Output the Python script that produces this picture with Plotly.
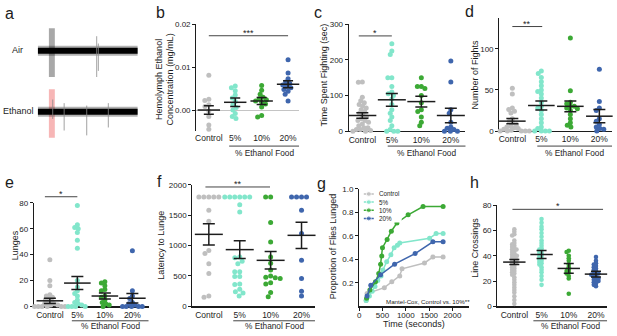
import numpy as np
import plotly.graph_objects as go

W, H = 617, 336
FONT = "Liberation Sans, Arimo, Arial, sans-serif"
INK = "#1c1c1c"
SIGC = "#444444"

GROUPS = ["Control", "5%", "10%", "20%"]
COLORS = ["#bfbfbf", "#82e6cb", "#3ca935", "#3f66ad"]
XLABEL = "% Ethanol Food"

# ---------------- panel a : recordings ----------------
a_rows = ["Air", "Ethanol"]
a_row_level = [0.0, -1.0]
a_record = [5.5, 96.4]
a_stim = [15.5, 20.9]
a_stim_extent = [-0.43, 0.37]
a_stim_colors = ["#a8a8a8", "#f7b6b6"]
air_spike_t = [59.1, 60.6]
air_spike_hi = [0.24, 0.12]
air_spike_lo = [-0.43, -0.33]
eth_spike_t = [19.0, 29.4, 50.0, 69.7]
eth_spike_hi = [-0.80, -0.86, -0.90, -0.86]
eth_spike_lo = [-1.12, -1.31, -1.39, -1.26]

# ---------------- panel b : hemolymph ethanol (mg/mL) ----------------
b_ctrl = [0.0081, 0.0025, 0.0022, 0.0012, 0.0008, -0.0002, -0.0015, -0.0035, -0.0045, -0.0052]
b_5 = [0.0056, 0.0052, 0.0045, 0.0035, 0.0028, 0.0020, 0.0012, 0.0006, 0.0, -0.0008, -0.0015, -0.0020]
b_10 = [0.0057, 0.0046, 0.0037, 0.0030, 0.0026, 0.0024, 0.0021, 0.0018, 0.0014, 0.0007, -0.0013, -0.0016]
b_20 = [0.0117, 0.0086, 0.0073, 0.0065, 0.0062, 0.0058, 0.0055, 0.0052, 0.0048, 0.0044, 0.0037, 0.0021]
b_mean = [0.0000, 0.0018, 0.0021, 0.0060]
b_sem = [0.0010, 0.0010, 0.0008, 0.0008]

# ---------------- panel c : time spent fighting (sec) ----------------
c_ctrl = [138, 137, 95, 85, 80, 75, 70, 65, 60, 55, 50, 45, 40, 35, 30, 30, 25, 20, 15, 10, 10, 5, 5, 2, 0, 0]
c_5 = [245, 225, 215, 150, 150, 125, 110, 105, 100, 90, 75, 60, 50, 40, 30, 15, 5, 0, 0, 0]
c_10 = [150, 125, 125, 120, 100, 80, 60, 55, 40, 25, 15]
c_20 = [197, 138, 60, 50, 25, 12, 8, 5, 0, 0, 0]
c_mean = [44, 88, 83, 44]
c_sem = [7.5, 18, 15, 20]

# ---------------- panel d : number of fights ----------------
d_ctrl = [52, 45, 28, 26, 24, 22, 15, 12, 10, 8, 6, 5, 4, 3, 2, 1, 0, 0, 0, 0, 0, 0]
d_5 = [73, 70, 65, 60, 55, 50, 48, 45, 40, 35, 30, 28, 25, 20, 15, 10, 5, 3, 0, 0, 0, 0]
d_10 = [113, 49, 35, 33, 30, 30, 28, 27, 25, 20, 15, 10, 7, 5]
d_20 = [75, 36, 28, 25, 15, 12, 8, 5, 3, 2, 0]
d_mean = [12, 31, 30, 18]
d_sem = [3.2, 5.4, 6.5, 8.0]

# ---------------- panel e : lunges ----------------
e_ctrl = [36, 20, 16, 9, 8, 7, 6, 5, 4, 3, 2, 2, 1, 1, 0, 0, 0, 0, 0, 0]
e_5 = [78, 63, 61, 60, 57, 51, 45, 20, 15, 12, 10, 8, 5, 3, 2, 1, 0, 0, 0, 0]
e_10 = [19, 18, 16, 13, 12, 8, 7, 5, 3, 2, 1, 0]
e_20 = [43, 12, 8, 6, 3, 2, 1, 0, 0, 0, 0, 0]
e_mean = [4.3, 18, 8, 6.3]
e_sem = [2.0, 5.0, 2.3, 3.6]

# ---------------- panel f : latency to lunge ----------------
f_ctrl = [1800, 1800, 1800, 1800, 1800, 1580, 1400, 920, 870, 700, 540, 170, 150]
f_5 = [1800, 1800, 1800, 1800, 1800, 1800, 1670, 1550, 810, 800, 740, 700, 570, 570,
       490, 490, 370, 360, 280, 240, 220, 170]
f_10 = [1800, 1800, 1380, 1060, 810, 710, 600, 500, 480, 470, 460, 390, 370, 230, 160]
f_20 = [1800, 1800, 1800, 1800, 1580, 1200, 760, 460, 250, 170]
f_mean = [1184, 933, 757, 1168]
f_sem = [176, 147, 144, 216]

# ---------------- panel g : proportion of flies lunged ----------------
g_ctrl_t = [150, 170, 540, 700, 870, 920, 1400, 1580, 1800]
g_ctrl_p = [0.05, 0.11, 0.16, 0.21, 0.26, 0.32, 0.37, 0.42, 0.42]
g_5_t = [150, 220, 280, 340, 400, 470, 510, 590, 680, 750, 820, 870, 1510, 1650, 1800]
g_5_p = [0.05, 0.09, 0.13, 0.17, 0.22, 0.26, 0.31, 0.38, 0.44, 0.50, 0.52, 0.54, 0.58, 0.62, 0.62]
g_10_t = [160, 230, 350, 420, 460, 485, 500, 600, 690, 810, 1050, 1370, 1800]
g_10_p = [0.07, 0.14, 0.21, 0.28, 0.36, 0.43, 0.50, 0.57, 0.64, 0.71, 0.78, 0.85, 0.85]
g_20_t = [170, 250, 460, 760, 1200, 1580, 1800]
g_20_p = [0.09, 0.18, 0.27, 0.36, 0.45, 0.55, 0.55]
g_note = "Mantel-Cox, Control vs. 10%**"

# ---------------- panel h : line crossings ----------------
h_ctrl = [61, 59, 57, 56, 52, 50, 49, 48, 47, 46, 45, 45, 44, 43, 42, 41, 40, 40, 39, 38,
          37, 37, 36, 35, 35, 34, 33, 32, 31, 30, 29, 28, 27, 26, 25, 23, 21, 19, 17, 15,
          13, 11, 8, 5, 2]
h_5 = [69, 66, 63, 61, 58, 55, 52, 50, 48, 46, 45, 44, 43, 42, 41, 40, 39, 38, 37, 36,
       35, 34, 33, 31, 29, 27, 24, 21, 17]
h_10 = [44, 43, 40, 38, 36, 33, 31, 29, 28, 27, 26, 24, 22, 10]
h_20 = [39, 36, 34, 33, 32, 31, 30, 29, 28, 27, 26, 26, 25, 25, 24, 23, 22, 22, 21, 20,
        20, 19, 18, 17, 16]
h_mean = [35, 41, 30, 25.5]
h_sem = [2.0, 3.2, 3.8, 2.2]


def fx(px):
    return px / W


def fy(py):
    return 1 - py / H


def swarm(vals, ppu, ppc, diam):
    vals = np.asarray(vals, float)
    order = np.argsort(-vals, kind="stable")
    placed = []
    off = np.zeros(len(vals))
    for i in order:
        y = vals[i] * ppu
        cands = [0.0]
        for x0, y0 in placed:
            dy = y - y0
            if abs(dy) < diam:
                dx = (diam ** 2 - dy ** 2) ** 0.5
                cands += [x0 + dx, x0 - dx]
        cands.sort(key=lambda c: (abs(c), c))
        choice = cands[-1]
        for c in cands:
            if all((c - x0) ** 2 + (y - y0) ** 2 >= diam ** 2 - 1e-6 for x0, y0 in placed):
                choice = c
                break
        placed.append((choice, y))
        off[i] = choice / ppc
    return off


fig = go.Figure()
ann = []
shapes = []


def axnames(i):
    return ("x" if i == 1 else f"x{i}"), ("y" if i == 1 else f"y{i}")


def set_axes(i, xpx, ypx, xr, yr, xkw=None, ykw=None):
    xn, yn = axnames(i)
    base = dict(showgrid=False, zeroline=False, layer="below traces", fixedrange=True)
    xd = dict(base, domain=[fx(xpx[0]), fx(xpx[1])], range=list(xr), anchor=yn)
    xd.update(xkw or {})
    yd = dict(base, domain=[fy(ypx[1]), fy(ypx[0])], range=list(yr), anchor=xn)
    yd.update(ykw or {})
    fig.layout["xaxis" if i == 1 else f"xaxis{i}"] = xd
    fig.layout["yaxis" if i == 1 else f"yaxis{i}"] = yd


def text(px, py, s, size, **kw):
    d = dict(x=fx(px), y=fy(py), xref="paper", yref="paper", text=s, showarrow=False,
             font=dict(size=size, color=INK, family=FONT), xanchor="center", yanchor="middle")
    d.update(kw)
    ann.append(d)


# ---------------- panel a ----------------
set_axes(1, (30, 140), (20, 145), (0, 100), (-1.55, 0.45),
         dict(visible=False), dict(visible=False))
for r, lev in enumerate(a_row_level):
    shapes.append(dict(type="rect", xref="x", yref="y", x0=a_stim[0], x1=a_stim[1],
                       y0=lev + a_stim_extent[0], y1=lev + a_stim_extent[1],
                       fillcolor=a_stim_colors[r], line=dict(width=0), layer="below"))
    fig.add_trace(go.Scatter(x=a_record, y=[lev, lev], mode="lines",
                             line=dict(color="rgba(0,0,0,0.3)", width=10), hoverinfo="skip"))
    fig.add_trace(go.Scatter(x=a_record, y=[lev, lev], mode="lines",
                             line=dict(color="#000000", width=6), hoverinfo="skip"))
for ts, his, los in [(air_spike_t, air_spike_hi, air_spike_lo), (eth_spike_t, eth_spike_hi, eth_spike_lo)]:
    xs, ys = [], []
    for t, hi, lo in zip(ts, his, los):
        xs += [t, t, None]
        ys += [hi, lo, None]
    fig.add_trace(go.Scatter(x=xs, y=ys, mode="lines", line=dict(color="#8a8a8a", width=0.8),
                             hoverinfo="skip"))
text(16, 47, a_rows[0], 9)
text(17, 110, a_rows[1], 9)

# ---------------- dot panels ----------------
DOT = [
    dict(id=2, xpx=(195, 298), ypx=(20.7, 131), cat0=207.5, dcat=26.5,
         yr=(-0.005, 0.02), yt=[0, 0.01, 0.02], fmt=".2f",
         data=[b_ctrl, b_5, b_10, b_20], mean=b_mean, sem=b_sem,
         title="Hemolymph Ethanol<br>Concentration (mg/mL)", txy=(163, 77),
         sig=(0, 3, 0.0173, "***"), bx0=0.77, bpy=146, lpy=153, ms=5, bw=16, cap=5,
         xline=False, pack=0.85),
    dict(id=3, xpx=(348, 465), ypx=(20.7, 130.7), cat0=361.5, dcat=29.6,
         yr=(0, 300), yt=[0, 100, 200, 300], fmt="",
         data=[c_ctrl, c_5, c_10, c_20], mean=c_mean, sem=c_sem,
         title="Time Spent Fighting (sec)", txy=(323.5, 73),
         sig=(-0.12, 1.0, 267, "*"), bx0=0.86, bpy=146, lpy=153, ms=5, bw=20, cap=6,
         xline=True, pack=0.8),
    dict(id=4, xpx=(499, 612), ypx=(14.7, 130.5), cat0=512, dcat=29.1,
         yr=(0, 137), yt=[0, 50, 100], fmt="",
         data=[d_ctrl, d_5, d_10, d_20], mean=d_mean, sem=d_sem,
         title="Number of Fights", txy=(475, 72),
         sig=(0, 1.03, 127, "**"), bx0=0.86, bpy=146, lpy=153, ms=5, bw=19, cap=6,
         xline=True, pack=0.8),
    dict(id=5, xpx=(32, 147), ypx=(204.3, 310.7), cat0=48, dcat=27.6,
         yr=(0, 80), yt=[0, 20, 40, 60, 80], fmt="",
         data=[e_ctrl, e_5, e_10, e_20], mean=e_mean, sem=e_sem,
         title="Lunges", txy=(13, 248),
         sig=(-0.18, 1.0, 84.7, "*"), bx0=0.8, bpy=325.5, lpy=330.5, ms=5, bw=19, cap=6,
         xline=True, pack=0.75),
    dict(id=6, xpx=(191, 314), ypx=(185.7, 310.7), cat0=207.5, dcat=31,
         yr=(0, 2000), yt=[0, 500, 1000, 1500, 2000], fmt="",
         data=[f_ctrl, f_5, f_10, f_20], mean=f_mean, sem=f_sem,
         title="Latency to Lunge", txy=(160, 248),
         sig=(-0.11, 1.98, 1963, "**"), bx0=0.79, bpy=325.5, lpy=330.5, ms=5, bw=20, cap=6,
         xline=True, pack=1.0),
    dict(id=8, xpx=(497, 607), ypx=(206.7, 310.7), cat0=514, dcat=27.3,
         yr=(0, 80), yt=[0, 20, 40, 60, 80], fmt="",
         data=[h_ctrl, h_5, h_10, h_20], mean=h_mean, sem=h_sem,
         title="Line Crossings", txy=(475, 250),
         sig=(-0.07, 3.26, 76.7, "*"), bx0=0.7, bpy=325.5, lpy=330.5, ms=4.6, bw=16, cap=5,
         xline=True, pack=0.55),
]

for P in DOT:
    i = P["id"]
    xn, yn = axnames(i)
    xr = ((P["xpx"][0] - P["cat0"]) / P["dcat"], (P["xpx"][1] - P["cat0"]) / P["dcat"])
    yr = P["yr"]
    xkw = dict(showline=P["xline"], linecolor=INK, linewidth=1.2, ticks="",
               tickvals=[0, 1, 2, 3], ticktext=GROUPS,
               tickfont=dict(size=8.5, color=INK, family=FONT))
    ykw = dict(showline=True, linecolor=INK, linewidth=1.2, ticks="outside", ticklen=3,
               tickwidth=1, tickcolor=INK, tickvals=P["yt"], tickformat=P["fmt"],
               tickfont=dict(size=8, color=INK, family=FONT))
    if not P["xline"]:
        ykw.update(zeroline=True, zerolinecolor="#c4c4c4", zerolinewidth=1)
    set_axes(i, P["xpx"], P["ypx"], xr, yr, xkw, ykw)
    ppu = (P["ypx"][1] - P["ypx"][0]) / (yr[1] - yr[0])
    for g, vals in enumerate(P["data"]):
        off = swarm(vals, ppu, P["dcat"], P["ms"] * P["pack"])
        fig.add_trace(go.Scatter(x=g + off, y=vals, mode="markers", xaxis=xn, yaxis=yn,
                                 marker=dict(color=COLORS[g], size=P["ms"], line=dict(width=0)),
                                 cliponaxis=False, hoverinfo="skip"))
    fig.add_trace(go.Scatter(x=[0, 1, 2, 3], y=P["mean"], mode="markers", xaxis=xn, yaxis=yn,
                             marker=dict(symbol="line-ew", size=P["bw"], color=INK,
                                         line=dict(color=INK, width=1.5)),
                             error_y=dict(type="data", array=P["sem"], width=P["cap"],
                                          thickness=1.5, color=INK),
                             cliponaxis=False, hoverinfo="skip"))
    # significance bar
    s0, s1, sv, st = P["sig"]
    fxs0 = (s0 - xr[0]) / (xr[1] - xr[0])
    fxs1 = (s1 - xr[0]) / (xr[1] - xr[0])
    fys = (sv - yr[0]) / (yr[1] - yr[0])
    shapes.append(dict(type="line", xref=f"{xn} domain", yref=f"{yn} domain",
                       x0=fxs0, x1=fxs1, y0=fys, y1=fys, line=dict(color=SIGC, width=1)))
    ann.append(dict(xref=f"{xn} domain", yref=f"{yn} domain", x=(fxs0 + fxs1) / 2, y=fys,
                    text=st, showarrow=False, xanchor="center", yanchor="bottom", yshift=-4,
                    font=dict(size=9, color=INK, family=FONT)))
    # group bracket
    bl = P["cat0"] + P["dcat"] * P["bx0"]
    br = P["xpx"][1]
    shapes.append(dict(type="line", xref="paper", yref="paper", x0=fx(bl), x1=fx(br),
                       y0=fy(P["bpy"]), y1=fy(P["bpy"]), line=dict(color=SIGC, width=1)))
    text((bl + br) / 2, P["lpy"], XLABEL, 8.3)
    text(P["txy"][0], P["txy"][1], P["title"], 9, textangle=-90)

# ---------------- panel g ----------------
set_axes(7, (358.3, 468.3), (190, 310.8), (0, 2350), (0, 1),
         dict(showline=True, linecolor=INK, linewidth=1.2, ticks="outside", ticklen=3,
              tickcolor=INK, tickvals=[0, 500, 1000, 1500, 2000], ticklabelstandoff=-2,
              tickfont=dict(size=8, color=INK, family=FONT)),
         dict(showline=True, linecolor=INK, linewidth=1.2, ticks="outside", ticklen=3,
              tickcolor=INK, tickvals=[0.2, 0.4, 0.6, 0.8, 1.0], tickformat=".1f",
              tickfont=dict(size=8, color=INK, family=FONT)))
g_series = [(g_ctrl_t, g_ctrl_p), (g_5_t, g_5_p), (g_10_t, g_10_p), (g_20_t, g_20_p)]
for g, (t, p) in enumerate(g_series):
    fig.add_trace(go.Scatter(x=t, y=p, mode="lines+markers", xaxis="x7", yaxis="y7",
                             line=dict(color=COLORS[g], width=1.5),
                             marker=dict(color=COLORS[g], size=5), cliponaxis=False,
                             hoverinfo="skip"))
text(413, 336.5, "Time (seconds)", 9, yanchor="bottom")
text(332, 249, "Proportion of Flies Lunged", 9, textangle=-90)
text(427, 306, g_note, 6.2)

# legend for g (own small axis)
set_axes(9, (361, 401), (191, 224.5), (0, 40), (3.5, -0.5),
         dict(visible=False), dict(visible=False))
for g, name in enumerate(GROUPS):
    fig.add_trace(go.Scatter(x=[2, 7, 12], y=[g, g, g], mode="lines+markers", xaxis="x9", yaxis="y9",
                             line=dict(color=COLORS[g], width=1.5),
                             marker=dict(color=COLORS[g], size=[0, 5, 0]), hoverinfo="skip"))
    ann.append(dict(xref="x9", yref="y9", x=15, y=g, text=name, showarrow=False,
                    xanchor="left", yanchor="middle",
                    font=dict(size=6.3, color=INK, family=FONT)))

# ---------------- panel letters ----------------
for letter, px, py in [("a", 8, 10), ("b", 159, 9), ("c", 317, 9), ("d", 469, 8),
                       ("e", 8, 183), ("f", 158, 182), ("g", 321, 184), ("h", 474, 183)]:
    text(px, py, letter, 16)

fig.update_layout(width=W, height=H, margin=dict(l=0, r=0, t=0, b=0),
                  paper_bgcolor="white", plot_bgcolor="white", showlegend=False,
                  annotations=ann, shapes=shapes, font=dict(family=FONT, color=INK))
fig.write_html("out.html", config={"displayModeBar": False, "staticPlot": True},
               post_script="document.body.style.margin='0';document.body.style.padding='0';"
                           "document.body.style.overflow='hidden';")
